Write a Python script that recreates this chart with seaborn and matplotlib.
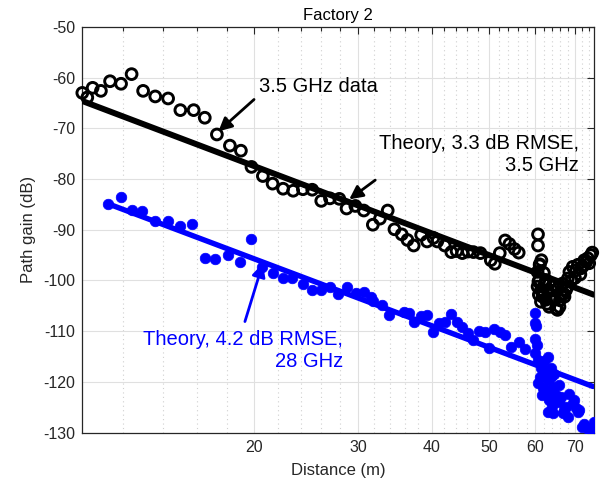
import matplotlib
matplotlib.use("Agg")
import matplotlib.pyplot as plt
import matplotlib.ticker as mticker
import numpy as np
import pandas as pd
import seaborn as sns

# ---- data ----
d35 = [10.23, 10.43, 10.65, 11.0, 11.4, 11.9, 12.4, 12.97, 13.6, 14.3, 15.0, 15.8, 16.5, 17.3,
       18.2, 19.0, 19.8, 20.7, 21.5, 22.4, 23.3, 24.2, 25.1, 26.0, 26.9, 27.9, 28.7, 29.7, 30.7,
       31.8, 32.7, 33.7, 34.6, 35.6, 36.4, 37.3, 38.4, 39.3, 40.3, 40.9, 42.1, 43.2, 44.1, 45.1,
       46.1, 47.1, 48.4, 50.4, 51.2, 52.2, 53.3, 54.2, 55.3, 56.2,
       60.6, 60.6, 61.4, 61.0,
       60.5, 60.9, 60.5, 61.3, 61.7, 61.3, 62.9, 63.8, 64.6, 65.0, 65.9, 62.5, 63.3, 64.2, 65.4,
       66.3, 67.2, 67.6, 66.7, 68.1, 68.5, 69.4, 70.3, 70.8, 71.7, 72.6, 73.6, 74.5, 74.9, 74.0,
       62.5, 63.3, 65.4, 61.0, 62.0, 69.0, 70.0, 71.5,
       60.7, 61.8, 62.2, 63.0, 64.0, 64.8, 66.0, 67.0, 68.0, 72.2, 73.2, 60.8, 62.8]
pg35 = [-63.0, -63.9, -62.0, -62.6, -60.7, -61.2, -59.3, -62.6, -63.7, -64.1, -66.4, -66.4, -67.9,
        -71.2, -73.4, -74.4, -77.6, -79.4, -80.9, -81.9, -82.3, -82.0, -82.1, -84.3, -83.8, -83.9,
        -85.8, -85.3, -86.2, -89.0, -87.8, -86.2, -89.9, -90.9, -92.0, -93.1, -91.0, -92.3, -91.6,
        -92.3, -93.1, -94.4, -94.2, -94.6, -94.3, -94.4, -94.6, -96.0, -96.7, -94.6, -92.1, -92.8,
        -93.8, -94.5,
        -90.9, -93.1, -96.0, -96.8,
        -98.3, -99.9, -101.2, -101.9, -103.2, -104.2, -101.9, -103.5, -103.8, -105.5, -105.2,
        -99.9, -100.5, -100.9, -101.6, -102.9, -103.2, -101.9, -100.6, -99.6, -98.3, -97.3, -98.0,
        -96.9, -97.6, -96.0, -95.6, -95.0, -94.5, -96.6,
        -103.8, -105.2, -105.8, -97.0, -98.5, -100.0, -99.5, -98.8,
        -100.2, -102.5, -100.8, -102.2, -102.0, -101.0, -103.9, -102.6, -101.2, -97.2, -96.3,
        -102.8, -104.6]

d28 = [11.33, 11.9, 12.4, 12.9, 13.6, 14.3, 15.0, 15.7, 16.5, 17.2, 18.1, 18.9, 19.8, 20.6, 21.5,
       22.4, 23.2, 24.2, 25.1, 26.0, 26.9, 27.8, 28.7, 29.8, 30.7, 31.6, 31.8, 33.0, 33.9, 35.9,
       36.6, 37.4, 38.4, 39.3, 40.2, 41.1, 42.1, 43.1, 44.2, 45.1, 46.1, 47.1, 48.2, 49.2, 50.0,
       51.0, 52.2, 53.3, 54.5, 56.2, 57.5,
       60.0, 60.0, 60.1, 60.0, 60.3, 60.0, 60.5, 61.3, 62.0, 62.5, 60.5, 61.7, 62.9, 63.8, 64.6,
       65.9, 65.0, 63.3, 62.9, 64.2, 66.7, 68.1, 68.5, 69.4, 70.3, 71.2, 67.6, 65.9, 62.5, 63.8,
       64.6, 62.9, 72.0, 72.6, 74.9, 75.5, 73.6,
       61.0, 61.6, 63.0, 64.0, 66.2, 67.0, 69.8, 70.8]
pg28 = [-84.9, -83.6, -86.1, -86.3, -88.3, -88.3, -89.3, -88.9, -95.5, -95.8, -95.0, -96.3, -91.8,
        -97.4, -98.5, -99.6, -99.6, -100.6, -101.9, -101.9, -101.2, -102.7, -101.2, -102.4, -102.2,
        -103.2, -104.1, -104.8, -106.8, -106.2, -106.5, -108.2, -107.0, -106.8, -110.2, -108.4,
        -108.1, -106.7, -108.1, -109.1, -110.4, -111.7, -110.0, -110.1, -113.4, -109.6, -110.2,
        -110.7, -113.1, -112.2, -113.6,
        -106.5, -108.3, -109.0, -111.6, -112.7, -114.3, -115.7, -117.3, -115.9, -118.3, -120.3,
        -121.3, -119.6, -119.0, -121.0, -120.6, -122.6, -123.6, -125.9, -126.2, -126.2, -126.9,
        -122.3, -124.2, -125.2, -125.5, -124.9, -124.0, -122.0, -117.3, -118.5, -115.0, -128.9,
        -128.3, -129.8, -128.0, -129.3,
        -119.0, -122.5, -121.5, -124.8, -123.0, -125.6, -123.5, -126.0]

theory35_d = [10.23, 75.3]
theory35_pg = [-64.6, -102.8]
theory28_d = [11.45, 75.1]
theory28_pg = [-85.1, -120.9]

x_major = [20, 30, 40, 50, 60, 70]
x_minor = [12, 14, 16, 18, 22, 24, 26, 28, 32, 34, 36, 38, 42, 44, 46, 48, 52, 54, 56, 58,
           62, 64, 66, 68, 72, 74]
y_ticks = [-130, -120, -110, -100, -90, -80, -70, -60, -50]

# ---- style ----
sns.set_theme(style="white")
plt.rcParams['font.family'] = ['Liberation Sans', 'DejaVu Sans']
plt.rcParams['axes.unicode_minus'] = False
TXT = '#262626'

fig = plt.figure(figsize=(6.08, 4.87), dpi=100)
ax = fig.add_axes([0.1354, 0.1117, 0.8421, 0.8329])

df35 = pd.DataFrame({'d': d35, 'pg': pg35})
df28 = pd.DataFrame({'d': d28, 'pg': pg28})
sns.scatterplot(data=df35, x='d', y='pg', ax=ax, marker='o', s=60, facecolor='none',
                edgecolor='black', linewidth=2.1, zorder=3, legend=False, clip_on=False)
sns.scatterplot(data=df28, x='d', y='pg', ax=ax, marker='o', s=58, color='#0000ff',
                edgecolor='#0000ff', linewidth=0.5, zorder=3, legend=False)
sns.lineplot(x=theory35_d, y=theory35_pg, ax=ax, color='black', lw=4.3, zorder=4,
             estimator=None, sort=False)
sns.lineplot(x=theory28_d, y=theory28_pg, ax=ax, color='#0000ff', lw=3.9, zorder=4,
             estimator=None, sort=False)

ax.set_xscale('log')
ax.set_xlim(10.23, 75.5)
ax.set_ylim(-130, -50)
ax.xaxis.set_major_locator(mticker.FixedLocator(x_major))
ax.xaxis.set_major_formatter(mticker.FixedFormatter([str(v) for v in x_major]))
ax.xaxis.set_minor_locator(mticker.FixedLocator(x_minor))
ax.xaxis.set_minor_formatter(mticker.NullFormatter())
ax.set_yticks(y_ticks)

ax.grid(True, which='major', color='#e0e0e0', lw=0.8, ls='-')
ax.grid(True, which='minor', axis='x', color='#d0d0d0', lw=0.8, ls=(0, (1, 3)))
ax.set_axisbelow(True)
ax.tick_params(which='both', direction='in', top=True, right=True, colors=TXT,
               labelsize=11.5, width=0.8)
ax.tick_params(which='major', length=5, pad=5)
ax.tick_params(which='minor', length=3)
for s in ax.spines.values():
    s.set_color(TXT)
    s.set_linewidth(0.9)

ax.set_xlabel('Distance (m)', fontsize=12, color=TXT, labelpad=6)
ax.set_ylabel('Path gain (dB)', fontsize=12, color=TXT, labelpad=5)
ax.set_title('Factory 2', fontsize=12, color='black', pad=5)

# ---- annotations ----
arrow_k = dict(arrowstyle='-|>', color='black', lw=2.0, mutation_scale=20,
               shrinkA=0, shrinkB=0)
arrow_b = dict(arrowstyle='-|>', color='#0000ff', lw=2.0, mutation_scale=20,
               shrinkA=0, shrinkB=0)
ax.text(20.4, -61.8, '3.5 GHz data', fontsize=14.5, color='black', ha='left', va='center')
ax.annotate('', xy=(17.4, -70.6), xytext=(20.0, -64.3), arrowprops=arrow_k)
ax.text(71.2, -75.2, 'Theory, 3.3 dB RMSE,\n3.5 GHz', fontsize=14.5, color='black',
        ha='right', va='center', multialignment='right', linespacing=1.2)
ax.annotate('', xy=(29.0, -84.0), xytext=(32.1, -80.2), arrowprops=arrow_k)
ax.text(28.3, -113.8, 'Theory, 4.2 dB RMSE,\n28 GHz', fontsize=14.5, color='#0000ff',
        ha='right', va='center', multialignment='right', linespacing=1.2)
ax.annotate('', xy=(20.7, -96.6), xytext=(19.3, -108.1), arrowprops=arrow_b)

fig.savefig('out.png', dpi=100)
